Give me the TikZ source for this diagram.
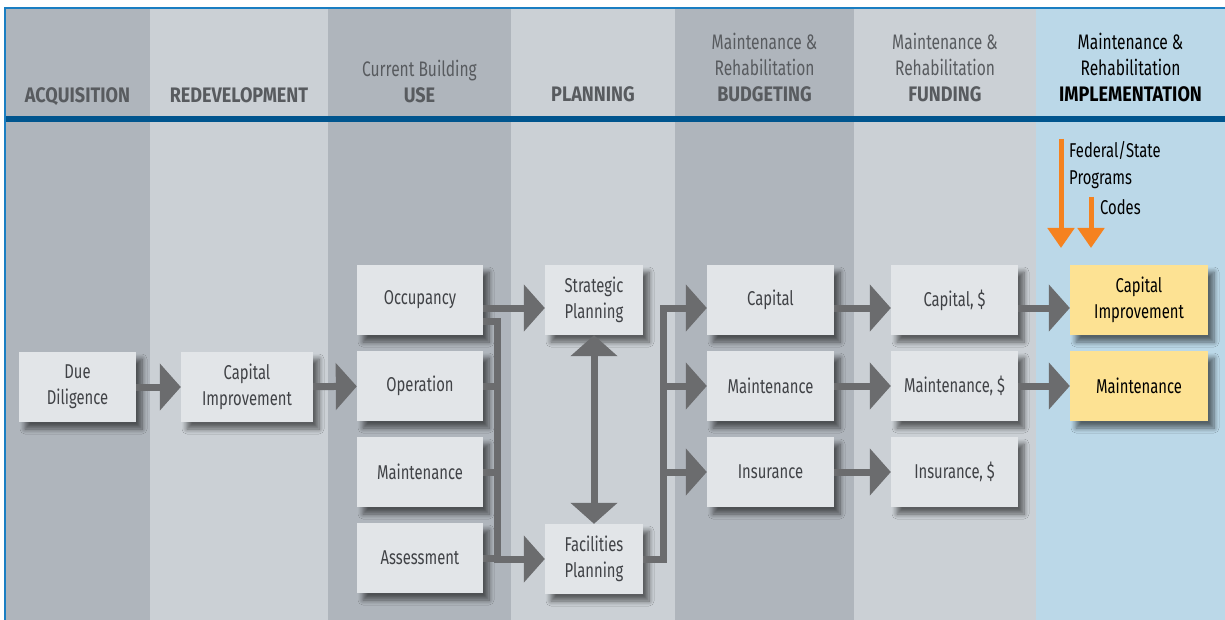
\documentclass[tikz,border=0pt]{standalone}
\usepackage{fontspec}
\setmainfont{Fira Sans}[FakeStretch=0.74,BoldFeatures={FakeStretch=0.86}]
\usetikzlibrary{arrows.meta,positioning,shadows.blur}
\definecolor{darkcol}{HTML}{AFB5BC}
\definecolor{lightcol}{HTML}{CBD0D5}
\definecolor{implcol}{HTML}{BBD8E8}
\definecolor{boxgray}{HTML}{E2E5E8}
\definecolor{boxyellow}{HTML}{FDE293}
\definecolor{arrowgray}{HTML}{6B6C6E}
\definecolor{rulecol}{HTML}{00558E}
\definecolor{framecol}{HTML}{1A7EC2}
\definecolor{textgray}{HTML}{404246}
\definecolor{headgray}{HTML}{585B5F}
\definecolor{orangearr}{HTML}{F5821F}

\tikzset{
  bigtip/.tip={Triangle[width=46pt,length=21pt]},
  smalltip/.tip={Triangle[width=26pt,length=20pt]},
  stepbox/.style={rectangle,fill=boxgray,minimum height=70pt,inner sep=2pt,
    align=center,text=textgray,font=\fontsize{20}{26}\selectfont,
    blur shadow={shadow xshift=6pt,shadow yshift=-7pt,shadow blur radius=5pt,
      shadow blur steps=8,shadow opacity=55}},
  implbox/.style={stepbox,fill=boxyellow,text=black},
  colhead/.style={anchor=south,inner sep=0pt,text depth=0pt,align=center,
    text=headgray,font=\fontsize{21}{26}\selectfont},
  bigline/.style={draw=arrowgray,line width=7pt},
  bigarrow/.style={bigline,-bigtip},
  orangearrow/.style={draw=orangearr,line width=5pt,-smalltip}
}

\begin{document}
\begin{tikzpicture}[x=1pt,y=-1pt]
  \useasboundingbox (0,0) rectangle (1225,620);

  % Column bands
  \fill[darkcol] (5,8) rectangle (150,620);
  \fill[lightcol] (150,8) rectangle (328,620);
  \fill[darkcol] (328,8) rectangle (511,620);
  \fill[lightcol] (511,8) rectangle (675,620);
  \fill[darkcol] (675,8) rectangle (854,620);
  \fill[lightcol] (854,8) rectangle (1036,620);
  \fill[implcol] (1036,8) rectangle (1225,620);

  % Header rule and frame
  \fill[rulecol] (5,116) rectangle (1225,122);
  \draw[framecol,line width=2pt] (5,620) -- (5,8) -- (1225,8);

  % Column headings
  \node[colhead] (hAcq) at (77.5,103) {\textbf{ACQUISITION}};
  \node[colhead] (hRedev) at (239,103) {\textbf{REDEVELOPMENT}};
  \node[colhead] (hUse) at (419.5,103) {Current Building\\\textbf{USE}};
  \node[colhead] (hPlan) at (593,102) {\textbf{PLANNING}};
  \node[colhead] (hBudget) at (764.5,102) {Maintenance \&\\Rehabilitation\\\textbf{BUDGETING}};
  \node[colhead] (hFund) at (945,102) {Maintenance \&\\Rehabilitation\\\textbf{FUNDING}};
  \node[colhead,text=black] (hImpl) at (1130.5,102) {Maintenance \&\\Rehabilitation\\\textbf{IMPLEMENTATION}};

  % Acquisition and redevelopment
  \node[stepbox,minimum width=117pt] (dd) at (77.5,387) {Due\\Diligence};
  \node[stepbox,minimum width=132pt] (ci) at (247,387) {Capital\\Improvement};

  % Current building use
  \node[stepbox,minimum width=126pt] (occ) at (420,300) {Occupancy};
  \node[stepbox,minimum width=126pt] (opr) at (420,386) {Operation};
  \node[stepbox,minimum width=126pt] (mnt) at (420,472) {Maintenance};
  \node[stepbox,minimum width=126pt] (asm) at (420,558) {Assessment};

  % Planning
  \node[stepbox,minimum width=98pt] (strat) at (594,300) {Strategic\\Planning};
  \node[stepbox,minimum width=98pt] (fac) at (594,559) {Facilities\\Planning};

  % Budgeting
  \node[stepbox,minimum width=127pt] (bcap) at (770.5,300) {Capital};
  \node[stepbox,minimum width=127pt] (bmnt) at (770.5,386) {Maintenance};
  \node[stepbox,minimum width=127pt] (bins) at (770.5,472) {Insurance};

  % Funding
  \node[stepbox,minimum width=127pt] (fcap) at (954.5,300) {Capital, \$};
  \node[stepbox,minimum width=127pt] (fmnt) at (954.5,386) {Maintenance, \$};
  \node[stepbox,minimum width=127pt] (fins) at (954.5,472) {Insurance, \$};

  % Implementation
  \node[implbox,minimum width=138pt] (icap) at (1139,300) {Capital\\Improvement};
  \node[implbox,minimum width=138pt] (imnt) at (1139,386) {Maintenance};

  % Orange inputs
  \coordinate (fedtop) at (1061,139);
  \coordinate (fedtip) at (1061,248);
  \coordinate (codetop) at (1091,197);
  \coordinate (codetip) at (1091,248);
  \draw[orangearrow] (fedtop) -- (fedtip);
  \draw[orangearrow] (codetop) -- (codetip);
  \node[anchor=north west,inner sep=0pt,align=left,font=\fontsize{20}{27}\selectfont] (fed) at (1069,141) {Federal/State\\Programs};
  \node[anchor=north west,inner sep=0pt,font=\fontsize{20}{26}\selectfont] (codes) at (1100,199) {Codes};

  % Bus coordinates
  \coordinate (busL) at (497,0);
  \coordinate (busR) at (663,0);
  \coordinate (r1) at ([yshift=-8pt]bcap.west);

  % Arrows
  \draw[bigarrow] (dd) -- (ci);
  \draw[bigarrow] (ci) -- (opr);
  \draw[bigarrow] ([yshift=-8pt]occ.east) -- ([yshift=-8pt]strat.west);
  \draw[bigarrow] ([yshift=-21pt]occ.east) -| (busL |- fac.west) -- (fac.west);
  \draw[bigline] (opr.east) -- (opr.east -| busL);
  \draw[bigline] (mnt.east) -- (mnt.east -| busL);
  \draw[bigline] (asm.east) -- (asm.east -| busL);
  \draw[bigline,bigtip-bigtip] (strat.south) -- (fac.north);
  \draw[bigarrow] (fac.east) -| (busR |- r1) -- (r1);
  \draw[bigarrow] (busR |- bmnt.west) -- (bmnt.west);
  \draw[bigarrow] (busR |- bins.west) -- (bins.west);
  \draw[bigarrow] ([yshift=-8pt]bcap.east) -- ([yshift=-8pt]fcap.west);
  \draw[bigarrow] (bmnt) -- (fmnt);
  \draw[bigarrow] (bins) -- (fins);
  \draw[bigarrow] ([yshift=-8pt]fcap.east) -- ([yshift=-8pt]icap.west);
  \draw[bigarrow] (fmnt) -- (imnt);

\end{tikzpicture}
\end{document}
